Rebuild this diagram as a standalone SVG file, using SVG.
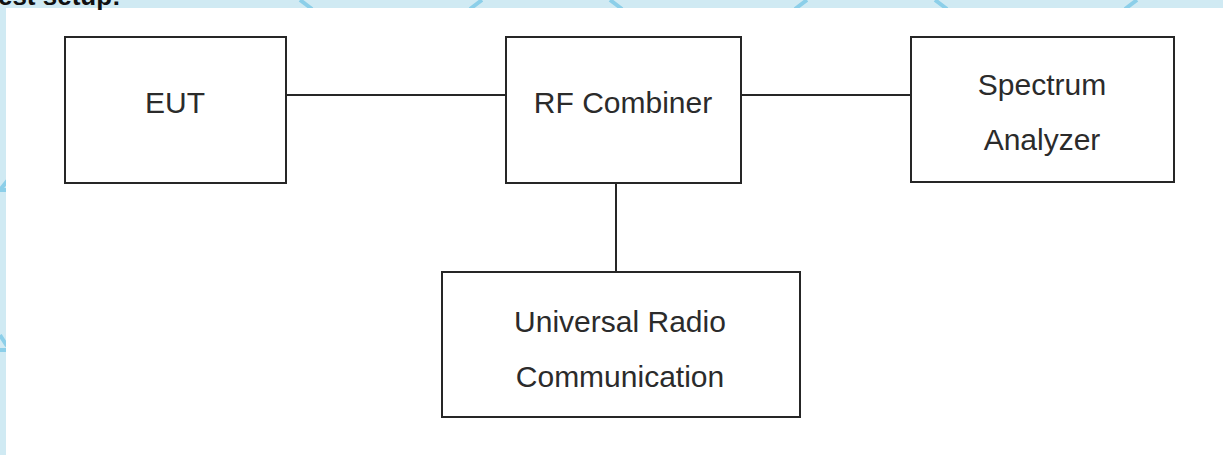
<svg xmlns="http://www.w3.org/2000/svg" width="1223" height="455" viewBox="0 0 1223 455">
  <style>
    .box { fill: #ffffff; stroke: #262626; stroke-width: 2; }
    .lbl { font-family: "Liberation Sans", Arial, sans-serif; font-size: 30px; fill: #2b2b2b; text-anchor: middle; }
    .wire { stroke: #262626; stroke-width: 2; fill: none; }
    .wm { stroke: #8ccfe9; stroke-width: 4; fill: none; }
  </style>
  <rect x="0" y="0" width="1223" height="455" fill="#d0eaf3"/>
  <g id="watermark">
    <path class="wm" d="M470 9 L482 0 M610 0 L622 9"/>
    <path class="wm" d="M795 9 L807 0 M935 0 L947 9"/>
    <path class="wm" d="M1125 9 L1137 0"/>
    <path class="wm" d="M300 0 L312 9"/>
    <path class="wm" d="M0 190 L8 180 M0 190 L6 190"/>
    <path class="wm" d="M0 335 L7 346 M0 350 L6 350"/>
  </g>
  <rect x="6" y="8" width="1217" height="447" fill="#ffffff"/>
  <text x="-16" y="5" font-family="Liberation Sans, Arial, sans-serif" font-size="26" font-weight="bold" fill="#111">Test setup:</text>
  <g id="connectors">
    <line class="wire" x1="286" y1="95" x2="506" y2="95"/>
    <line class="wire" x1="741" y1="95" x2="911" y2="95"/>
    <line class="wire" x1="616" y1="183" x2="616" y2="272"/>
  </g>
  <g id="eut">
    <rect class="box" x="65" y="37" width="221" height="146"/>
    <text class="lbl" x="175" y="113">EUT</text>
  </g>
  <g id="rf-combiner">
    <rect class="box" x="506" y="37" width="235" height="146"/>
    <text class="lbl" x="623" y="113">RF Combiner</text>
  </g>
  <g id="spectrum-analyzer">
    <rect class="box" x="911" y="37" width="263" height="145"/>
    <text class="lbl" x="1042" y="95">Spectrum</text>
    <text class="lbl" x="1042" y="150">Analyzer</text>
  </g>
  <g id="universal-radio">
    <rect class="box" x="442" y="272" width="358" height="145"/>
    <text class="lbl" x="620" y="332">Universal Radio</text>
    <text class="lbl" x="620" y="387">Communication</text>
  </g>
</svg>
